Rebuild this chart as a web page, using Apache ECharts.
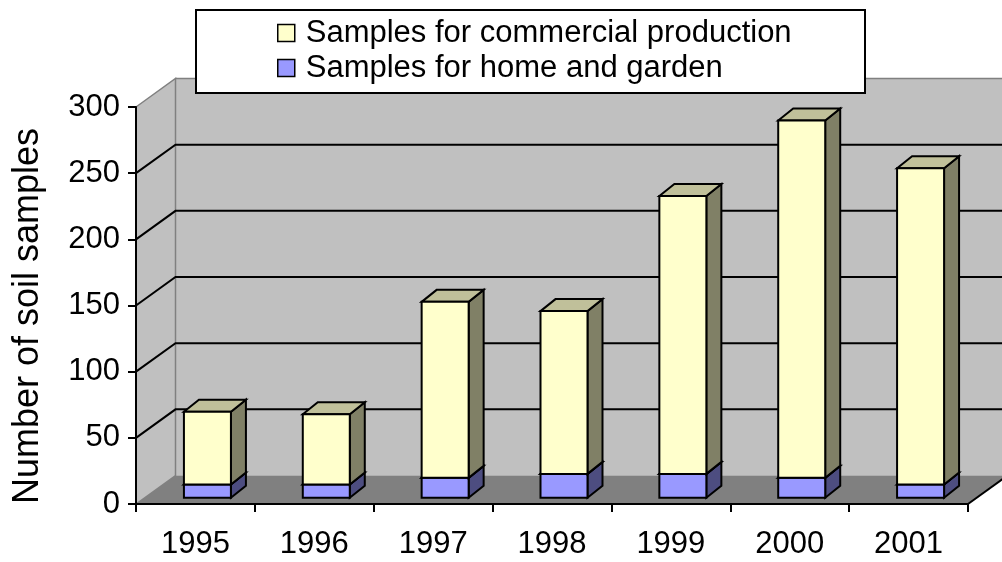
<!DOCTYPE html>
<html>
<head>
<meta charset="utf-8">
<script src="https://cdn.jsdelivr.net/npm/echarts@6/dist/echarts.min.js"></script>
<style>
html,body{margin:0;padding:0;background:#fff;}
#chart{width:1002px;height:562px;}
</style>
</head>
<body>
<div id="chart"></div>
<script>
const years = ['1995','1996','1997','1998','1999','2000','2001'];
const homeGarden = [10, 10, 15, 18, 18, 15, 10];
const commercial = [55, 53, 133, 123, 210, 270, 239];
const yTicks = [0, 50, 100, 150, 200, 250, 300];
const seriesNames = ['Samples for commercial production', 'Samples for home and garden'];

const FONT = "'Liberation Sans', Arial, sans-serif";
// depth of the plot box (front plane -> back wall)
const DX = 39.5, DY = -28.5;
// bar geometry relative to the front plane
const OX = 12, OY = -6.3, BW = 47, BX = 15, BY = -12;

const colors = {
  yellowFront: '#FFFFCC', yellowTop: '#C0C09A', yellowSide: '#808066',
  blueFront: '#9999FF', blueTop: '#7373BF', blueSide: '#4D4D80'
};

const chart = echarts.init(document.getElementById('chart'));

function wallsRender(params, api) {
  const cs = params.coordSys;
  const L = cs.x, R = cs.x + cs.width;
  const yv = v => api.coord([0, v])[1];
  const yTop = yv(yTicks[yTicks.length - 1]);
  const y0 = yv(yTicks[0]);
  const children = [];
  // back wall
  children.push({type: 'polygon', shape: {points: [[L + DX, yTop + DY], [R + DX, yTop + DY], [R + DX, y0 + DY], [L + DX, y0 + DY]]},
    style: {fill: '#C0C0C0', stroke: null}});
  // floor
  children.push({type: 'polygon', shape: {points: [[L, y0], [L + DX, y0 + DY], [R + DX, y0 + DY], [R, y0]]},
    style: {fill: '#808080', stroke: null}});
  // left wall
  children.push({type: 'polygon', shape: {points: [[L, yTop], [L + DX, yTop + DY], [L + DX, y0 + DY], [L, y0]]},
    style: {fill: '#C0C0C0', stroke: '#808080', lineWidth: 1.5}});
  // back wall top edge
  children.push({type: 'polyline', shape: {points: [[L + DX, yTop + DY], [R + DX, yTop + DY]]},
    style: {stroke: '#808080', lineWidth: 1.5, fill: null}});
  // gridlines
  yTicks.slice(1, -1).forEach(v => {
    const y = yv(v);
    children.push({type: 'polyline', shape: {points: [[L, y], [L + DX, y + DY], [R + DX, y + DY]]},
      style: {stroke: '#000', lineWidth: 2, fill: null}});
  });
  // floor right edge
  children.push({type: 'line', shape: {x1: R, y1: y0, x2: R + DX, y2: y0 + DY},
    style: {stroke: '#000', lineWidth: 2}});
  return {type: 'group', children: children};
}

function boxRender(front, top, side) {
  return function (params, api) {
    const i = api.value(0), v0 = api.value(1), v1 = api.value(2);
    const pB = api.coord([i, v0]);
    const pT = api.coord([i, v1]);
    const cx = pB[0] + OX;
    const yb = pB[1] + OY, yt = pT[1] + OY;
    const xl = cx - BW / 2, xr = cx + BW / 2;
    const st = {stroke: '#000', lineWidth: 2, lineJoin: 'miter'};
    return {
      type: 'group',
      children: [
        {type: 'polygon', shape: {points: [[xr, yt], [xr + BX, yt + BY], [xr + BX, yb + BY], [xr, yb]]},
          style: Object.assign({fill: side}, st)},
        {type: 'polygon', shape: {points: [[xl, yt], [xl + BX, yt + BY], [xr + BX, yt + BY], [xr, yt]]},
          style: Object.assign({fill: top}, st)},
        {type: 'polygon', shape: {points: [[xl, yt], [xr, yt], [xr, yb], [xl, yb]]},
          style: Object.assign({fill: front}, st)}
      ]
    };
  };
}

const homeData = years.map((y, i) => [i, 0, homeGarden[i]]);
const commData = years.map((y, i) => [i, homeGarden[i], homeGarden[i] + commercial[i]]);

chart.setOption({
  animation: false,
  backgroundColor: '#fff',
  grid: {left: 136, right: 34, top: 107, bottom: 58, containLabel: false},
  xAxis: {
    type: 'category', data: years, boundaryGap: true, z: 3,
    axisLine: {show: true, lineStyle: {color: '#000', width: 2}},
    axisTick: {show: true, length: 8, lineStyle: {color: '#000', width: 2}},
    axisLabel: {color: '#000', fontSize: 31, fontFamily: FONT, margin: 25},
    splitLine: {show: false}
  },
  yAxis: {
    type: 'value', min: 0, max: 300, interval: 50, z: 3,
    axisLine: {show: true, lineStyle: {color: '#000', width: 2}},
    axisTick: {show: true, length: 8, lineStyle: {color: '#000', width: 2}},
    axisLabel: {color: '#000', fontSize: 31, fontFamily: FONT, margin: 16},
    splitLine: {show: false}
  },
  legend: {
    orient: 'vertical', left: 277, top: 16, padding: 0, itemGap: 1,
    itemWidth: 17, itemHeight: 17, icon: 'rect', z: 11, selectedMode: false,
    textStyle: {color: '#000', fontSize: 31, fontFamily: FONT, lineHeight: 34, padding: [0, 0, 0, 6]},
    data: [
      {name: seriesNames[0], itemStyle: {color: colors.yellowFront, borderColor: '#000', borderWidth: 1.5}},
      {name: seriesNames[1], itemStyle: {color: colors.blueFront, borderColor: '#000', borderWidth: 1.5}}
    ]
  },
  graphic: [
    {type: 'rect', z: 10, shape: {x: 196, y: 10, width: 669, height: 83},
      style: {fill: '#fff', stroke: '#000', lineWidth: 2}},
    {type: 'text', z: 10, x: 28, y: 316, rotation: Math.PI / 2,
      style: {text: 'Number of soil samples', fontSize: 36, fontFamily: FONT, fill: '#000',
        align: 'center', verticalAlign: 'middle'}}
  ],
  series: [
    {type: 'custom', name: 'walls', silent: true, z: 1, data: [[0, 0]], renderItem: wallsRender},
    {type: 'custom', name: seriesNames[1], z: 4, data: homeData,
      itemStyle: {color: colors.blueFront},
      renderItem: boxRender(colors.blueFront, colors.blueTop, colors.blueSide)},
    {type: 'custom', name: seriesNames[0], z: 4, data: commData,
      itemStyle: {color: colors.yellowFront},
      renderItem: boxRender(colors.yellowFront, colors.yellowTop, colors.yellowSide)}
  ]
});
</script>
</body>
</html>
